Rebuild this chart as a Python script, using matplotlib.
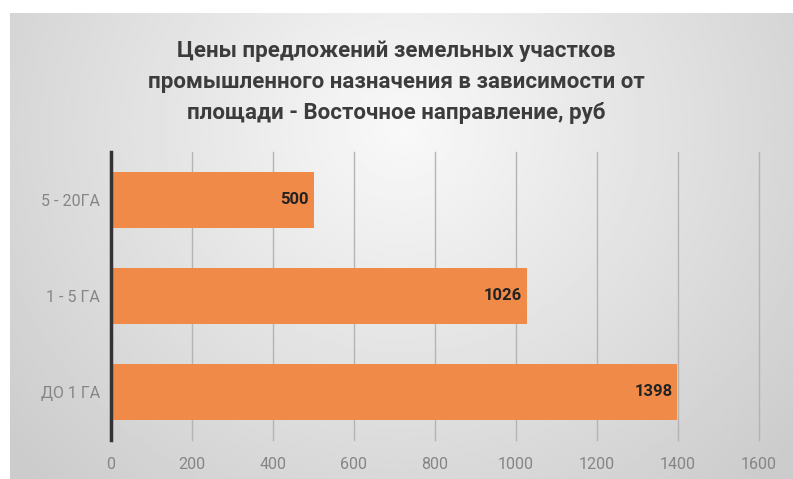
import numpy as np
import matplotlib.pyplot as plt

# data
categories = ["ДО 1 ГА", "1 - 5 ГА", "5 - 20ГА"]
prices = [1398, 1026, 500]
x_ticks = [0, 200, 400, 600, 800, 1000, 1200, 1400, 1600]

title = ("Цены предложений земельных участков\n"
         "промышленного назначения в зависимости от\n"
         "площади - Восточное направление, руб")

fig = plt.figure(figsize=(7.93, 4.79), dpi=100)
fig.patch.set_facecolor("white")

# gradient backdrop (light centre, grey edges)
bg = fig.add_axes([10 / 793, 0, 1 - 10 / 793, 1 - 13 / 479])
yy, xx = np.mgrid[-1:1:200j, -1:1:300j]
r = np.sqrt((xx * 0.95) ** 2 + ((yy + 0.5) * 0.6) ** 2)
shade = np.clip(0.975 - 0.14 * r, 0.80, 0.975)
bg.imshow(shade, cmap="gray", vmin=0, vmax=1, aspect="auto", extent=[0, 1, 0, 1])
bg.axis("off")

fig.text(0.5, 0.829, title, ha="center", va="center", fontsize=16,
         fontweight="bold", color="#3c3c3c", linespacing=1.52,
         family=["Roboto", "DejaVu Sans"])

ax = fig.add_axes([111 / 793, 1 - 440 / 479, (759 - 111) / 793, (440 - 152) / 479])
ax.patch.set_alpha(0)

bars = ax.barh(categories, prices, height=0.58, color="#F08A48", zorder=3)
for b, v in zip(bars, prices):
    ax.text(v - 12, b.get_y() + b.get_height() / 2, str(v), ha="right",
            va="center", fontsize=12, fontweight="bold", color="#222222",
            family=["Roboto", "DejaVu Sans"], zorder=4)

ax.set_xlim(0, 1600)
ax.set_ylim(-0.5, 2.5)
ax.set_xticks(x_ticks)
ax.grid(axis="x", color="#b4b4b4", linewidth=1, zorder=1, clip_on=False)
ax.tick_params(axis="both", length=0, labelsize=11.5, labelcolor="#858585")
ax.tick_params(axis="x", pad=12)
ax.tick_params(axis="y", pad=8)
for lbl in ax.get_xticklabels() + ax.get_yticklabels():
    lbl.set_family(["Roboto", "DejaVu Sans"])
for s in ["top", "right", "bottom"]:
    ax.spines[s].set_visible(False)
ax.spines["left"].set_color("#333333")
ax.spines["left"].set_linewidth(2.5)
ax.spines["left"].set_zorder(5)

plt.savefig("out.png", dpi=100)
